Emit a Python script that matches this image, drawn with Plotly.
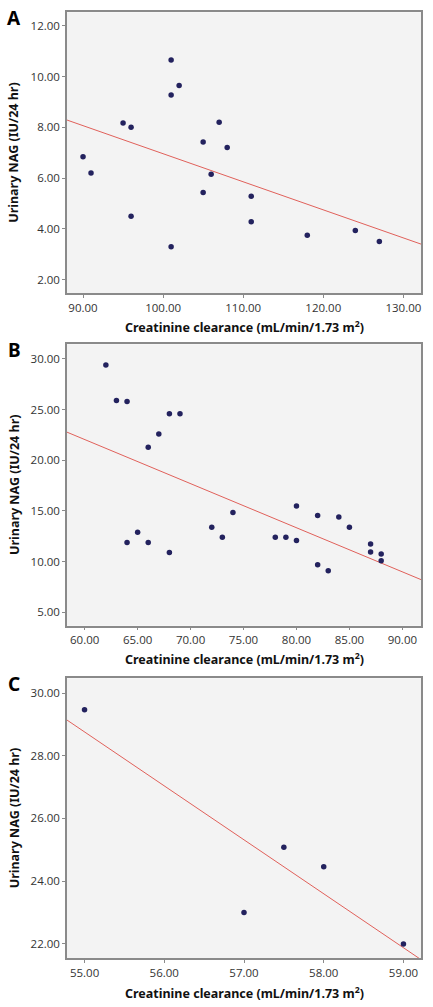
import numpy as np
import plotly.graph_objects as go

# Panel A data
a_x = [90, 91, 95, 96, 96, 101, 101, 102, 101, 105, 105, 106, 107, 108, 111, 111, 118, 124, 127]
a_y = [6.84, 6.20, 8.17, 8.00, 4.50, 10.65, 9.27, 9.65, 3.29, 7.42, 5.43, 6.15, 8.20, 7.20, 5.28, 4.28, 3.75, 3.93, 3.50]

# Panel B data
b_x = [62, 63, 64, 66, 67, 68, 69, 64, 65, 66, 68, 72, 73, 74, 78, 79, 80, 80, 82, 82, 83, 84, 85, 87, 87, 88, 88]
b_y = [29.4, 25.9, 25.8, 21.3, 22.6, 24.6, 24.6, 11.9, 12.9, 11.9, 10.9, 13.4, 12.4, 14.85, 12.4, 12.4, 15.5, 12.1, 14.55, 9.7, 9.1, 14.4, 13.4, 11.75, 10.95, 10.75, 10.1]

# Panel C data
c_x = [55, 57.5, 58, 57, 59]
c_y = [29.47, 25.08, 24.46, 23.0, 22.0]

a_xticks = [90, 100, 110, 120, 130]
a_yticks = [2, 4, 6, 8, 10, 12]
b_xticks = [60, 65, 70, 75, 80, 85, 90]
b_yticks = [5, 10, 15, 20, 25, 30]
c_xticks = [55, 56, 57, 58, 59]
c_yticks = [22, 24, 26, 28, 30]

panels = [
    dict(x=a_x, y=a_y, xr=[88.0, 132.2], yr=[1.46, 12.53], xt=a_xticks, yt=a_yticks, top=12.3, bot=293.3, label="A", xtitle_y=327),
    dict(x=b_x, y=b_y, xr=[58.33, 91.76], yr=[3.68, 31.45], xt=b_xticks, yt=b_yticks, top=344.3, bot=625.7, label="B", xtitle_y=659),
    dict(x=c_x, y=c_y, xr=[54.78, 59.22], yr=[21.54, 30.47], xt=c_xticks, yt=c_yticks, top=678.3, bot=958.3, label="C", xtitle_y=993),
]

W, H = 433, 1007
LEFT, RIGHT = 67.0, 421.0
fig = go.Figure()
font_tick = dict(family="Open Sans, Noto Sans, sans-serif", size=11.5, color="#333333")
font_title = dict(family="Noto Sans, Open Sans, sans-serif", size=12.5, color="#111111")

for i, p in enumerate(panels):
    n = "" if i == 0 else str(i + 1)
    xa, ya = "x" + n, "y" + n
    slope, intercept = np.polyfit(p["x"], p["y"], 1)
    lx = np.array(p["xr"])
    fig.add_trace(go.Scatter(x=lx, y=slope * lx + intercept, mode="lines",
                             line=dict(color="#e0605a", width=1), xaxis=xa, yaxis=ya,
                             showlegend=False, hoverinfo="skip"))
    fig.add_trace(go.Scatter(x=p["x"], y=p["y"], mode="markers",
                             marker=dict(color="#23225e", size=5.5), xaxis=xa, yaxis=ya,
                             showlegend=False))
    ydom = [1 - p["bot"] / H, 1 - p["top"] / H]
    axcommon = dict(showgrid=False, zeroline=False, showline=True, linecolor="#8a8a8a",
                    linewidth=1.5, mirror=True, ticks="outside", ticklen=3, tickcolor="#8a8a8a",
                    tickfont=font_tick)
    fig.layout["xaxis" + n] = dict(domain=[LEFT / W, RIGHT / W], range=p["xr"], anchor=ya,
                                   tickvals=p["xt"], ticktext=[f"{v:.2f}" for v in p["xt"]], **axcommon)
    fig.layout["yaxis" + n] = dict(domain=ydom, range=p["yr"], anchor=xa,
                                   tickvals=p["yt"], ticktext=[f"{v:.2f}" for v in p["yt"]], **axcommon)
    fig.add_annotation(text="<b>Creatinine clearance (mL/min/1.73 m<sup>2</sup>)</b>",
                       x=(LEFT + RIGHT) / 2 / W, y=1 - p["xtitle_y"] / H, xref="paper", yref="paper",
                       showarrow=False, font=font_title, xanchor="center", yanchor="middle")
    fig.add_annotation(text="<b>Urinary NAG (IU/24 hr)</b>", textangle=-90,
                       x=14 / W, y=1 - (p["top"] + p["bot"]) / 2 / H, xref="paper", yref="paper",
                       showarrow=False, font=font_title, xanchor="center", yanchor="middle")
    fig.add_annotation(text="<b>" + p["label"] + "</b>", x=14 / W, y=1 - (p["top"] + 6) / H,
                       xref="paper", yref="paper", showarrow=False,
                       font=dict(family="Noto Sans, sans-serif", size=19, color="#000000"),
                       xanchor="center", yanchor="middle")

fig.update_layout(width=W, height=H, margin=dict(l=0, r=0, t=0, b=0),
                  paper_bgcolor="white", plot_bgcolor="#f3f3f3")
fig.write_html("out.html", config={"displayModeBar": False},
               post_script="document.body.style.margin='0';document.body.style.padding='0';"
                           "document.body.style.overflow='hidden';"
                           "document.documentElement.style.overflow='hidden';")
